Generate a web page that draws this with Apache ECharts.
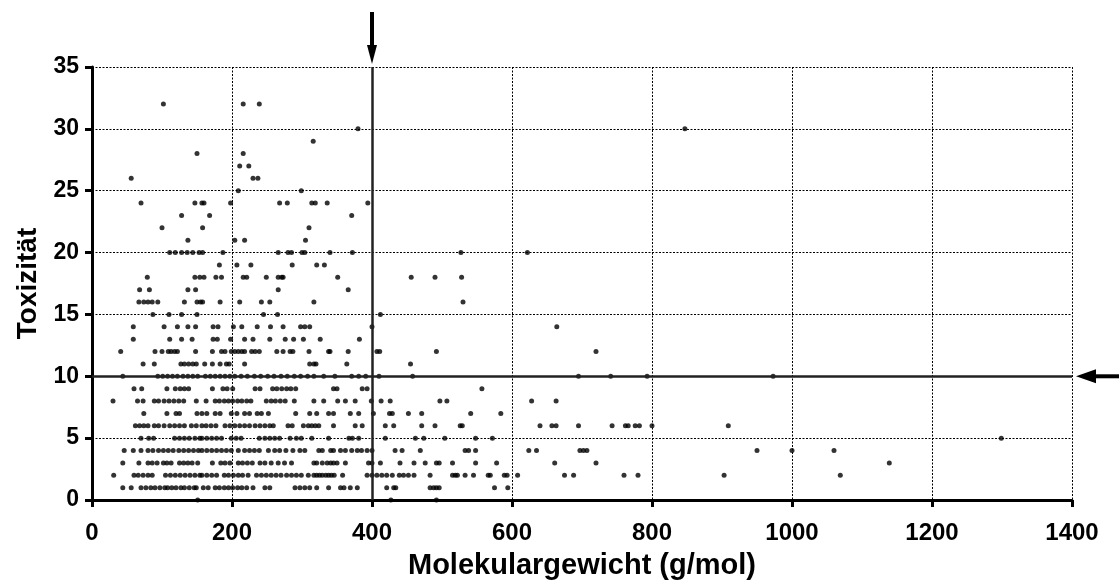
<!DOCTYPE html>
<html><head><meta charset="utf-8">
<script src="https://cdn.jsdelivr.net/npm/echarts@6/dist/echarts.min.js"></script>
<style>html,body{margin:0;padding:0;background:#fff}#c{width:1119px;height:585px}</style>
</head><body><div id="c"></div>
<script>
// Molecular weight (g/mol) of substances, grouped by their toxicity score
const tox0 = [151, 427, 492];
const tox1 = [44, 56, 70, 77, 84, 90, 97, 104, 108, 114, 120, 127, 132, 139, 146, 149, 159, 166, 176, 182, 189, 195, 201, 208, 214, 221, 230, 247, 254, 290, 297, 304, 311, 321, 338, 355, 360, 369, 379, 421, 431, 434, 483, 488, 492, 496, 575, 594];
const tox2 = [31, 60, 66, 73, 80, 86, 105, 112, 119, 126, 133, 140, 147, 154, 157, 164, 171, 178, 189, 195, 202, 209, 215, 223, 235, 242, 249, 256, 263, 270, 278, 285, 292, 299, 309, 317, 321, 325, 329, 334, 338, 342, 346, 358, 393, 400, 407, 414, 421, 429, 439, 445, 452, 460, 483, 515, 519, 522, 533, 545, 566, 569, 589, 593, 608, 675, 688, 760, 780, 903, 1069];
const tox3 = [44, 67, 80, 86, 93, 102, 107, 113, 125, 131, 137, 143, 151, 172, 184, 190, 197, 209, 215, 222, 229, 240, 247, 256, 266, 275, 285, 317, 321, 329, 336, 341, 345, 350, 362, 395, 400, 412, 440, 460, 476, 492, 496, 515, 548, 578, 661, 720, 1139];
const tox4 = [46, 59, 70, 80, 87, 95, 102, 109, 116, 124, 131, 138, 145, 152, 157, 164, 171, 178, 185, 192, 199, 209, 218, 225, 232, 239, 252, 261, 268, 277, 287, 297, 304, 324, 329, 341, 345, 355, 362, 371, 379, 385, 393, 400, 433, 443, 469, 533, 538, 548, 624, 635, 697, 702, 707, 950, 1000, 1060];
const tox5 = [70, 81, 88, 118, 125, 132, 139, 147, 154, 157, 164, 171, 178, 185, 199, 206, 213, 239, 247, 254, 261, 268, 283, 292, 299, 314, 338, 367, 372, 381, 419, 462, 474, 504, 548, 572, 1299];
const tox6 = [62, 68, 74, 80, 89, 95, 103, 111, 118, 125, 132, 142, 149, 157, 163, 170, 177, 190, 197, 204, 211, 218, 225, 233, 240, 247, 254, 259, 280, 286, 302, 309, 314, 319, 324, 345, 376, 386, 419, 431, 471, 490, 526, 529, 640, 657, 663, 695, 743, 762, 766, 776, 782, 800, 909];
const tox7 = [74, 107, 120, 125, 150, 157, 164, 176, 183, 199, 207, 218, 225, 236, 242, 252, 291, 311, 321, 338, 345, 369, 381, 402, 425, 429, 452, 471, 541, 584];
const tox8 = [30, 65, 73, 89, 95, 103, 110, 117, 124, 131, 149, 163, 176, 182, 189, 195, 201, 208, 214, 221, 227, 249, 256, 262, 269, 276, 289, 317, 331, 351, 362, 376, 399, 413, 426, 497, 507, 628, 663];
const tox9 = [60, 71, 107, 119, 126, 132, 138, 172, 187, 193, 201, 233, 240, 258, 264, 271, 278, 284, 291, 345, 350, 386, 393, 557];
const tox10 = [44, 94, 101, 108, 115, 122, 130, 137, 144, 151, 162, 169, 176, 183, 190, 197, 204, 213, 222, 232, 241, 251, 260, 270, 279, 289, 298, 308, 317, 331, 347, 371, 381, 391, 410, 458, 695, 741, 793, 973];
const tox11 = [73, 89, 127, 132, 138, 144, 149, 161, 172, 183, 192, 196, 218, 311, 317, 320, 364, 455];
const tox12 = [41, 90, 100, 109, 113, 118, 122, 148, 172, 185, 190, 199, 204, 209, 214, 218, 228, 233, 239, 264, 273, 283, 287, 310, 338, 340, 366, 407, 411, 492, 720];
const tox13 = [59, 111, 128, 143, 173, 179, 198, 218, 230, 254, 276, 288, 302, 326, 382];
const tox14 = [59, 103, 122, 137, 148, 173, 180, 202, 214, 236, 255, 273, 298, 304, 311, 400, 664];
const tox15 = [87, 110, 128, 150, 245, 265, 412];
const tox16 = [67, 74, 80, 86, 94, 132, 150, 155, 158, 183, 211, 242, 254, 317, 530];
const tox17 = [68, 82, 137, 148, 266, 366];
const tox18 = [79, 147, 154, 160, 177, 185, 216, 221, 249, 266, 271, 273, 351, 456, 490, 528];
const tox19 = [182, 207, 227, 286, 321, 332];
const tox20 = [111, 119, 128, 136, 144, 153, 158, 187, 266, 280, 285, 300, 304, 340, 372, 527, 622];
const tox21 = [137, 204, 218, 305];
const tox22 = [100, 158, 310];
const tox23 = [128, 168, 371];
const tox24 = [70, 147, 157, 160, 198, 268, 279, 314, 319, 336, 394];
const tox25 = [209, 299];
const tox26 = [56, 230, 237];
const tox27 = [211, 224];
const tox28 = [150, 216];
const tox29 = [316];
const tox30 = [380, 847];
const tox32 = [102, 216, 239];

const rows = [
  [0, tox0], [1, tox1], [2, tox2], [3, tox3], [4, tox4], [5, tox5], [6, tox6], [7, tox7],
  [8, tox8], [9, tox9], [10, tox10], [11, tox11], [12, tox12], [13, tox13], [14, tox14],
  [15, tox15], [16, tox16], [17, tox17], [18, tox18], [19, tox19], [20, tox20], [21, tox21],
  [22, tox22], [23, tox23], [24, tox24], [25, tox25], [26, tox26], [27, tox27], [28, tox28],
  [29, tox29], [30, tox30], [32, tox32]
];
const points = [];
rows.forEach(([t, xs]) => xs.forEach(m => points.push([m, t])));

const xMin = 0, xMax = 1400, xStep = 200;
const yMin = 0, yMax = 35, yStep = 5;
const xThreshold = 400, yThreshold = 10;

const FONT = 'Liberation Sans, Arial, sans-serif';
const chart = echarts.init(document.getElementById('c'), null, {renderer: 'canvas'});
const axisCommon = {
  axisLine: {show: true, onZero: false, lineStyle: {color: '#000', width: 3}},
  axisTick: {show: true, inside: false, length: 7, lineStyle: {color: '#000', width: 3}},
  splitLine: {show: true, lineStyle: {color: '#000', width: 1, type: [2, 1.5]}},
  axisLabel: {color: '#000', fontFamily: FONT, fontWeight: 'bold', fontSize: 23, formatter: v => String(v)},
  nameTextStyle: {color: '#000', fontFamily: FONT, fontWeight: 'bold', fontSize: 28},
  nameLocation: 'middle'
};
chart.setOption({
  animation: false,
  backgroundColor: '#fff',
  grid: {left: 92, right: 47, top: 67, bottom: 80, containLabel: false},
  xAxis: Object.assign({}, axisCommon, {
    type: 'value', min: xMin, max: xMax, interval: xStep,
    name: 'Molekulargewicht (g/mol)', nameGap: 51,
    nameTextStyle: Object.assign({}, axisCommon.nameTextStyle, {fontSize: 29}),
    axisLabel: Object.assign({}, axisCommon.axisLabel, {margin: 21, fontSize: 24})
  }),
  yAxis: Object.assign({}, axisCommon, {
    type: 'value', min: yMin, max: yMax, interval: yStep,
    name: 'Toxizität', nameGap: 49,
    axisLabel: Object.assign({}, axisCommon.axisLabel, {margin: 13})
  }),
  series: [{
    type: 'scatter',
    data: points,
    symbol: 'circle',
    symbolSize: 5,
    clip: false,
    itemStyle: {color: '#000'},
    markLine: {
      silent: true,
      symbol: 'none',
      label: {show: false},
      lineStyle: {color: '#222', width: 2.5, type: 'solid'},
      data: [{xAxis: xThreshold}, {yAxis: yThreshold}]
    }
  }]
});

// Arrows pointing at the threshold lines, positioned via the chart's own scales
function drawArrows() {
  const top = chart.convertToPixel({gridIndex: 0}, [xThreshold, yMax]);
  const right = chart.convertToPixel({gridIndex: 0}, [xMax, yThreshold]);
  const W = chart.getWidth();
  chart.setOption({
    graphic: [
      {type: 'line', shape: {x1: top[0], y1: top[1] - 55, x2: top[0], y2: top[1] - 20}, style: {stroke: '#000', lineWidth: 4}},
      {type: 'polygon', shape: {points: [[top[0] - 5, top[1] - 22], [top[0] + 5, top[1] - 22], [top[0], top[1] - 3]]}, style: {fill: '#000'}},
      {type: 'line', shape: {x1: right[0] + 22, y1: right[1], x2: W, y2: right[1]}, style: {stroke: '#000', lineWidth: 4}},
      {type: 'polygon', shape: {points: [[right[0] + 4, right[1]], [right[0] + 24, right[1] - 7], [right[0] + 24, right[1] + 7]]}, style: {fill: '#000'}}
    ]
  });
}
drawArrows();
</script></body></html>
